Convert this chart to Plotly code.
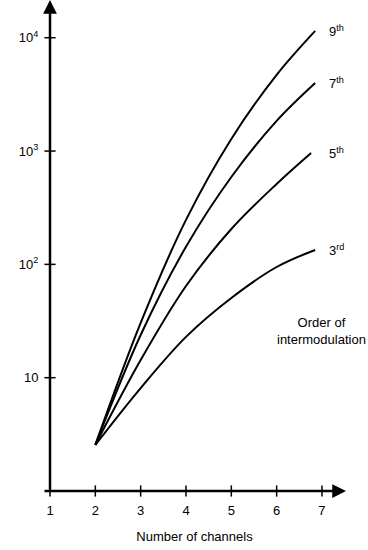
import math
import plotly.graph_objects as go

# Data
channels = [2, 3, 4, 5, 6, 6.85]
order3 = [2.55, 8.1, 22.9, 50.5, 94.8, 134]
order5_x = [2, 3, 4, 5, 6, 6.76]
order5 = [2.55, 14.3, 64.4, 205, 513, 962]
order7 = [2.55, 23.8, 143, 590, 1845, 3981]
order9 = [2.55, 30.4, 247, 1279, 4699, 11482]
x_ticks = [1, 2, 3, 4, 5, 6, 7]
y_ticks = [10, 100, 1000, 10000]
y_tick_text = ["10", "10<sup>2</sup>", "10<sup>3</sup>", "10<sup>4</sup>"]
labels = ["9<sup>th</sup>", "7<sup>th</sup>", "5<sup>th</sup>", "3<sup>rd</sup>"]

FONT = "Arial, Liberation Sans, sans-serif"
X_RANGE = [0.8456, 7.53]
Y_RANGE = [-0.0794, 4.333]

fig = go.Figure()
series = [(channels, order9), (channels, order7), (order5_x, order5), (channels, order3)]
for xs, ys in series:
    fig.add_trace(go.Scatter(x=xs, y=ys, mode="lines",
                             line=dict(color="black", width=2, shape="spline", smoothing=1.0),
                             hoverinfo="skip", showlegend=False))

# tick marks crossing the axes
fig.add_trace(go.Scatter(x=x_ticks, y=[1] * len(x_ticks), mode="markers",
                         marker=dict(symbol="line-ns", size=8, line=dict(width=1.5, color="black")),
                         hoverinfo="skip", showlegend=False))
fig.add_trace(go.Scatter(x=[1] * len(y_ticks), y=y_ticks, mode="markers",
                         marker=dict(symbol="line-ew", size=8, line=dict(width=1.5, color="black")),
                         hoverinfo="skip", showlegend=False))

# axis lines with arrows
fig.add_annotation(x=X_RANGE[1], y=0, ax=X_RANGE[0], ay=0, xref="x", yref="y", axref="x", ayref="y",
                   showarrow=True, arrowhead=2, arrowsize=1.1, arrowwidth=2.5, arrowcolor="black", text="")
fig.add_annotation(x=1, y=Y_RANGE[1], ax=1, ay=0, xref="x", yref="y", axref="x", ayref="y",
                   showarrow=True, arrowhead=2, arrowsize=1.1, arrowwidth=2.5, arrowcolor="black", text="")

# curve labels
ends = [(channels[-1], order9[-1]), (channels[-1], order7[-1]), (order5_x[-1], order5[-1]), (channels[-1], order3[-1])]
for (ex, ey), lab in zip(ends, labels):
    fig.add_annotation(x=7.11, y=math.log10(ey), xref="x", yref="y", text=lab, showarrow=False,
                       xanchor="left", yanchor="middle", font=dict(family=FONT, size=13, color="black"))

fig.add_annotation(x=6.98, y=1.41, xref="x", yref="y",
                   text="Order of<br>intermodulation", showarrow=False, xanchor="center", yanchor="middle",
                   font=dict(family=FONT, size=13, color="black"))

fig.update_layout(
    width=368, height=550, autosize=False,
    margin=dict(l=43, r=22, t=0, b=50),
    paper_bgcolor="white", plot_bgcolor="white",
    font=dict(family=FONT, size=13, color="black"),
    xaxis=dict(range=X_RANGE, tickvals=x_ticks, ticktext=[str(v) for v in x_ticks],
               showgrid=False, zeroline=False, showline=False,
               ticks="", ticklabelstandoff=1,
               title=dict(text="Number of channels", standoff=14, font=dict(size=13))),
    yaxis=dict(type="log", range=Y_RANGE, tickvals=y_ticks, ticktext=y_tick_text,
               anchor="free", position=(1 - X_RANGE[0]) / (X_RANGE[1] - X_RANGE[0]),
               showgrid=False, zeroline=False, showline=False,
               ticks="outside", ticklen=9, tickcolor="rgba(0,0,0,0)"),
)

fig.write_html("out.html", config={"displayModeBar": False},
               post_script="document.body.style.margin='0';document.body.style.overflow='hidden';")
